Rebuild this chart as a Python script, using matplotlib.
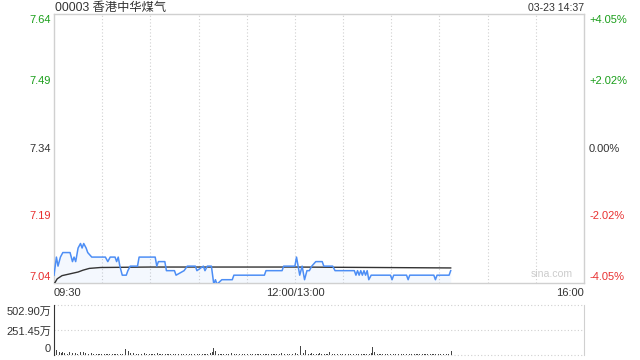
import matplotlib
matplotlib.use("Agg")
import matplotlib.pyplot as plt
import numpy as np

plt.rcParams['font.family'] = ['Liberation Sans', 'Noto Sans CJK SC', 'DejaVu Sans']

title = "00003 香港中华煤气"
stamp = "03-23 14:37"
prev_close = 7.34
price_ticks = [7.64, 7.49, 7.34, 7.19, 7.04]
pct_labels = ["+4.05%", "+2.02%", "0.00%", "-2.02%", "-4.05%"]
time_labels = ["09:30", "12:00/13:00", "16:00"]
vol_ticks = [502.90, 251.45, 0]
vol_labels = ["502.90万", "251.45万", "0"]

# price line vertices (trading minute since 09:30, price)
price_min = [0, 1.5, 2.5, 4, 5.5, 10, 11.5, 12.5, 13.5, 15, 16.5, 17.5, 18.5, 20, 21, 23.5,
             32, 33.5, 35, 38, 39, 40, 41, 42.5, 45, 46, 47.5, 52, 53, 63, 64, 65, 69,
             70, 75, 76, 81, 83, 88, 89, 93, 94, 95.5, 98, 99.5, 100.5, 101.5, 104.5,
             106, 111, 112, 131, 132, 142, 143, 150, 151, 152, 153, 154.5, 156, 157.5,
             159, 160.5, 163, 167, 168, 173.5, 175, 187, 188, 189, 190, 191, 192, 193,
             194, 195, 196, 197.5, 209.5, 210.5, 211.5, 219.5, 220.5, 221.5, 236.5, 237.5, 238.5,
             246, 247]
price_val = [7.06, 7.10, 7.08, 7.10, 7.11, 7.11, 7.09, 7.10, 7.09, 7.12, 7.13, 7.12, 7.13, 7.12, 7.11, 7.10,
             7.10, 7.09, 7.10, 7.10, 7.09, 7.10, 7.08, 7.06, 7.06, 7.07, 7.08, 7.08, 7.10, 7.10, 7.08, 7.09, 7.09,
             7.07, 7.07, 7.06, 7.07, 7.08, 7.08, 7.07, 7.08, 7.07, 7.08, 7.08, 7.04, 7.05, 7.04, 7.05,
             7.05, 7.05, 7.06, 7.06, 7.07, 7.07, 7.08, 7.08, 7.10, 7.08, 7.06, 7.08, 7.05, 7.07,
             7.07, 7.08, 7.09, 7.09, 7.08, 7.08, 7.07, 7.07, 7.06, 7.07, 7.06, 7.07, 7.06, 7.07,
             7.06, 7.07, 7.05, 7.06, 7.06, 7.05, 7.06, 7.06, 7.05, 7.06, 7.06, 7.05, 7.06,
             7.06, 7.07]

avg_min = [0, 2, 5, 10, 15, 18, 22, 29, 60, 150, 200, 247]
avg_val = [7.040, 7.052, 7.059, 7.063, 7.067, 7.071, 7.075, 7.077, 7.078, 7.078, 7.077, 7.076]

# per-minute volume (万)
volume = [117, 50, 67, 30, 25, 35, 20, 33, 15, 30,
          15, 25, 20, 18, 12, 60, 30, 50, 35, 20,
          30, 15, 12, 18, 10, 14, 8, 12, 10, 9,
          12, 8, 10, 14, 9, 11, 8, 10, 12, 9,
          10, 12, 15, 141, 60, 80, 45, 25, 18, 20,
          12, 15, 10, 18, 9, 12, 25, 10, 8, 12,
          10, 9, 14, 8, 20, 12, 9, 10, 15, 8,
          10, 12, 9, 8, 11, 10, 9, 12, 8, 10,
          9, 11, 8, 10, 12, 9, 8, 10, 9, 11,
          8, 10, 12, 9, 10, 15, 12, 20, 30, 67,
          40, 30, 15, 12, 10, 9, 12, 10, 8, 15,
          20, 60, 15, 10, 9, 12, 8, 10, 9, 8,
          10, 9, 8, 11, 9, 10, 8, 9, 10, 8,
          9, 8, 10, 9, 8, 10, 9, 12, 10, 15,
          12, 25, 10, 9, 8, 12, 10, 9, 11, 15,
          20, 15, 74, 94, 40, 25, 50, 20, 15, 12,
          18, 12, 40, 15, 12, 25, 10, 9, 12, 10,
          15, 30, 12, 10, 9, 8, 10, 9, 12, 8,
          10, 9, 8, 12, 9, 10, 8, 9, 11, 10,
          9, 12, 10, 8, 15, 10, 12, 20, 84, 35,
          15, 10, 9, 8, 10, 9, 8, 10, 9, 8,
          9, 10, 8, 9, 8, 10, 9, 8, 9, 10,
          8, 9, 10, 8, 9, 8, 10, 9, 8, 9,
          10, 8, 9, 8, 10, 9, 8, 9, 10, 8,
          9, 8, 10, 9, 8, 12, 15, 40]

W, H = 640, 360
fig = plt.figure(figsize=(W / 100, H / 100), dpi=100)

def fx(px):
    return px / W

def fy(py):
    return 1 - py / H

L, R = 54, 584
PT, PB = 14, 283
VT, VB = 305, 355

grey = '#d0d0d0'
green = '#1a9e1a'
red = '#e83030'
txt = '#333333'
blue = '#4d8ef5'
fs = 8

ax = fig.add_axes([fx(L), fy(PB), fx(R - L), (PB - PT) / H])
ax.set_xlim(0, 330)
ymin = prev_close * (1 - 0.0405)
ymax = prev_close * (1 + 0.0405)
ax.set_ylim(ymin, ymax)
for s in ax.spines.values():
    s.set_color(grey)
    s.set_linewidth(1)
ax.set_xticks([])
ax.set_yticks([])
for m in range(30, 330, 30):
    ax.axvline(m, color=grey, lw=0.8, ls=(0, (1, 2)), zorder=0)

ax.fill_between(price_min, price_val, ymin, color=blue, alpha=0.06, lw=0)
ax.plot(avg_min, avg_val, color='#333333', lw=1.0, zorder=3)
ax.plot(price_min, price_val, color=blue, lw=1.1, zorder=4)

ax.text(0.979, 0.014, "sina.com", transform=ax.transAxes, ha='right', va='bottom',
        color='#cccccc', fontsize=7.6)

# y labels
n = len(price_ticks)
for i, (p, pl) in enumerate(zip(price_ticks, pct_labels)):
    py = PT + (PB - PT) * i / (n - 1)
    if i == 0:
        py_t = py + 6
    elif i == n - 1:
        py_t = py - 6
    else:
        py_t = py
    col = green if p > prev_close else (red if p < prev_close else txt)
    fig.text(fx(L - 3), fy(py_t), f"{p:.2f}", ha='right', va='center', color=col, fontsize=fs)
    fig.text(fx(R + 5), fy(py_t), pl, ha='left', va='center', color=col, fontsize=fs)

# title and timestamp
fig.text(fx(L + 1), fy(8), title, ha='left', va='center', color=txt, fontsize=8.8)
fig.text(fx(R), fy(8), stamp, ha='right', va='center', color=txt, fontsize=7.6)

# time labels
fig.text(fx(L), fy(293), time_labels[0], ha='left', va='center', color=txt, fontsize=fs)
fig.text(fx(L + (R - L) * 150 / 330), fy(293), time_labels[1], ha='center', va='center', color=txt, fontsize=fs)
fig.text(fx(R), fy(293), time_labels[2], ha='right', va='center', color=txt, fontsize=fs)

# volume axes
vax = fig.add_axes([fx(L), fy(VB), fx(R - L), (VB - VT) / H])
vax.set_xlim(0, 330)
vax.set_ylim(0, vol_ticks[0])
vax.set_xticks([])
vax.set_yticks([])
vax.spines['left'].set_color('#333333')
vax.spines['right'].set_color(grey)
vax.spines['top'].set_visible(False)
vax.spines['bottom'].set_visible(False)
for v in vol_ticks:
    vax.axhline(v, color=grey, lw=0.8, ls=(0, (1, 2)), zorder=0, clip_on=False)
vax.bar(np.arange(len(volume)) + 0.5, volume, width=0.45, color='#444444', lw=0)

vy = [VT + 7, (VT + VB) / 2 + 2, VB - 6]
for lab, yy in zip(vol_labels, vy):
    fig.text(fx(L - 3), fy(yy), lab, ha='right', va='center', color=txt, fontsize=fs)

fig.savefig("out.png", dpi=100)
